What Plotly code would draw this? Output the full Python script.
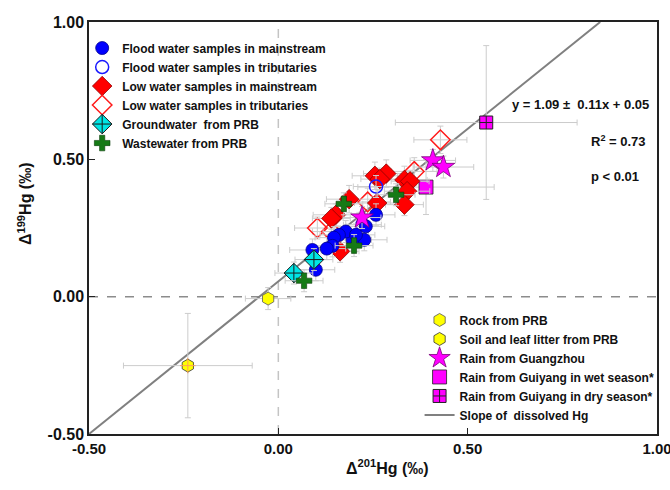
import plotly.graph_objects as go

# ---------------- data ----------------
flood_main_x = [0.258, 0.231, 0.227, 0.196, 0.178, 0.160, 0.147, 0.143, 0.128, 0.090, 0.099, 0.205]
flood_main_y = [0.298, 0.256, 0.207, 0.207, 0.237, 0.225, 0.215, 0.185, 0.175, 0.170, 0.098, 0.225]
flood_main_ex = [0.05, 0.05, 0.06, 0.05, 0.06, 0.05, 0.05, 0.06, 0.05, 0.06, 0.05, 0.05]
flood_main_ey = [0.04, 0.04, 0.04, 0.04, 0.04, 0.03, 0.04, 0.04, 0.04, 0.04, 0.04, 0.04]

flood_trib_x = [0.258, 0.222]
flood_trib_y = [0.401, 0.262]
flood_trib_ex = [0.06, 0.05]
flood_trib_ey = [0.04, 0.04]

low_main_x = [0.255, 0.285, 0.268, 0.187, 0.152, 0.140, 0.163, 0.261, 0.333, 0.348, 0.340, 0.333]
low_main_y = [0.440, 0.448, 0.428, 0.355, 0.298, 0.285, 0.165, 0.341, 0.425, 0.420, 0.384, 0.335]
low_main_ex = [0.06, 0.06, 0.05, 0.06, 0.06, 0.05, 0.05, 0.06, 0.06, 0.05, 0.06, 0.05]
low_main_ey = [0.05, 0.05, 0.04, 0.05, 0.04, 0.04, 0.04, 0.05, 0.05, 0.04, 0.05, 0.04]

low_trib_x = [0.428, 0.359, 0.236, 0.103, 0.140]
low_trib_y = [0.571, 0.456, 0.345, 0.250, 0.237]
low_trib_ex = [0.07, 0.06, 0.06, 0.06, 0.05]
low_trib_ey = [0.05, 0.05, 0.05, 0.04, 0.04]

ground_x = [0.094, 0.041]
ground_y = [0.135, 0.086]
ground_ex = [0.05, 0.05]
ground_ey = [0.04, 0.04]

waste_x = [0.068, 0.173, 0.200, 0.311]
waste_y = [0.058, 0.338, 0.186, 0.371]
waste_ex = [0.05, 0.05, 0.05, 0.05]
waste_ey = [0.04, 0.04, 0.04, 0.04]

rock_x = [-0.027]
rock_y = [-0.007]
rock_ex = [0.06]
rock_ey = [0.04]

soil_x = [-0.239]
soil_y = [-0.251]
soil_ex = [0.17]
soil_ey = [0.19]

gz_x = [0.408, 0.436, 0.221]
gz_y = [0.496, 0.472, 0.288]
gz_ex = [0.06, 0.08, 0.05]
gz_ey = [0.04, 0.04, 0.04]

wet_x = [0.390]
wet_y = [0.399]
wet_ex = [0.18]
wet_ey = [0.10]

dry_x = [0.549]
dry_y = [0.634]
dry_ex = [0.24]
dry_ey = [0.28]

# slope line as drawn in the picture (y = 1.09x + 0.05 label)
line_x = [-0.50, 0.85]
line_y = [-0.50, 1.00]

x_ticks = [-0.50, 0.00, 0.50, 1.00]
y_ticks = [-0.50, 0.00, 0.50, 1.00]
x_tick_text = ["-0.50", "0.00", "0.50", "1.00"]
y_tick_text = ["-0.50", "0.00", "0.50", "1.00"]

# ---------------- figure ----------------
FONT = "Liberation Sans, Arial, sans-serif"
ERRC = "#cccccc"

fig = go.Figure()


def err(ex, ey):
    return (dict(type="data", array=ex, color=ERRC, thickness=1, width=3),
            dict(type="data", array=ey, color=ERRC, thickness=1, width=3))


def add(name, x, y, ex, ey, symbol, color, size, lcolor, lw, legend, rank, show=True):
    exd, eyd = err(ex, ey)
    fig.add_trace(go.Scatter(
        x=x, y=y, mode="markers", name=name, legend=legend, legendrank=rank,
        showlegend=show,
        error_x=exd, error_y=eyd,
        marker=dict(symbol=symbol, color=color, size=size,
                    line=dict(color=lcolor, width=lw)),
    ))


# slope line
fig.add_trace(go.Scatter(x=line_x, y=line_y, mode="lines", name="Slope of  dissolved Hg",
                         line=dict(color="#808080", width=2), legend="legend2", legendrank=6))

add("Rain from Guiyang in dry season*", dry_x, dry_y, dry_ex, dry_ey,
    "square-cross", "#ff00ff", 13, "#222222", 1, "legend2", 5)
add("Rain from Guiyang in wet season*", wet_x, wet_y, wet_ex, wet_ey,
    "square", "#ff00ff", 14, "#222222", 0.8, "legend2", 4)
add("Soil and leaf litter from PRB", soil_x, soil_y, soil_ex, soil_ey,
    "hexagon", "#ffff00", 13, "#333333", 0.8, "legend2", 2)
fig.add_trace(go.Scatter(x=soil_x, y=soil_y, mode="markers", showlegend=False, hoverinfo="skip",
                         marker=dict(symbol="cross-thin-open", size=11,
                                     line=dict(color="#333333", width=1))))
add("Rock from PRB", rock_x, rock_y, rock_ex, rock_ey,
    "hexagon", "#ffff00", 13, "#555555", 0.8, "legend2", 1)
add("Low water samples in tributaries", low_trib_x, low_trib_y, low_trib_ex, low_trib_ey,
    "diamond-open", "#ff1a1a", 15, "#ff1a1a", 1.5, "legend", 4)
add("Low water samples in mainstream", low_main_x, low_main_y, low_main_ex, low_main_ey,
    "diamond", "#ff0000", 15, "#8b0000", 0.8, "legend", 3)
add("Flood water samples in tributaries", flood_trib_x, flood_trib_y, flood_trib_ex, flood_trib_ey,
    "circle-open", "#1a1aff", 13, "#1a1aff", 1.5, "legend", 2)
add("Flood water samples in mainstream", flood_main_x, flood_main_y, flood_main_ex, flood_main_ey,
    "circle", "#0000ff", 13, "#00008b", 0.8, "legend", 1)
add("Groundwater  from PRB", ground_x, ground_y, ground_ex, ground_ey,
    "diamond-cross", "#00e5e5", 15, "#1a1a1a", 1, "legend", 5)
add("Wastewater from PRB", waste_x, waste_y, waste_ex, waste_ey,
    "cross", "#157a15", 13, "#0a3d0a", 0.6, "legend", 6)
add("Rain from Guangzhou", gz_x, gz_y, gz_ex, gz_ey,
    "star", "#ff00ff", 17, "#7a007a", 0.8, "legend2", 3)

fig.add_hline(y=0, line=dict(color="#8c8c8c", width=1.5, dash="dash"), layer="below")
fig.add_vline(x=0, line=dict(color="#c4c4c4", width=1.5, dash="dash"), layer="below")

legend_font = dict(family=FONT, size=12, color="#111111", weight="bold")
ytick_font = dict(family=FONT, size=16, color="#111111", weight="bold")
xtick_font = dict(family=FONT, size=15, color="#111111", weight="bold")

fig.update_layout(
    width=670, height=490,
    margin=dict(l=89, r=13, t=22, b=56, autoexpand=False),
    paper_bgcolor="white", plot_bgcolor="white",
    font=dict(family=FONT, color="#111111"),
    legend=dict(x=-0.012, y=0.972, xanchor="left", yanchor="top",
                bgcolor="rgba(0,0,0,0)", font=legend_font,
                itemsizing="trace", tracegroupgap=0),
    legend2=dict(x=0.582, y=0.312, xanchor="left", yanchor="top",
                 bgcolor="rgba(0,0,0,0)", font=legend_font,
                 itemsizing="trace"),
    xaxis=dict(range=[-0.5, 1.0], tickvals=x_ticks, ticktext=x_tick_text,
               ticks="inside", ticklen=6, tickcolor="#222222",
               showline=True, linecolor="#222222", linewidth=1.5, mirror=True,
               showgrid=False, zeroline=False, tickfont=xtick_font,
               ticklabeloverflow="allow"),
    yaxis=dict(range=[-0.5, 1.0], tickvals=y_ticks, ticktext=y_tick_text,
               ticks="inside", ticklen=6, tickcolor="#222222",
               showline=True, linecolor="#222222", linewidth=1.5, mirror=True,
               showgrid=False, zeroline=False, tickfont=ytick_font,
               ticklabeloverflow="allow"),
    annotations=[
        dict(text="Δ<sup>201</sup>Hg (‰)", xref="paper", yref="paper", x=0.525, y=-0.08,
             xanchor="center", yanchor="middle", showarrow=False,
             font=dict(family=FONT, size=16, color="#111111", weight="bold")),
        dict(text="Δ<sup>199</sup>Hg (‰)", xref="paper", yref="paper", x=-0.113, y=0.56,
             xanchor="center", yanchor="middle", showarrow=False, textangle=-90,
             font=dict(family=FONT, size=16, color="#111111", weight="bold")),
        dict(text="y = 1.09 ±  0.11x + 0.05", xref="paper", yref="paper", x=0.989, y=0.80,
             xanchor="right", yanchor="middle", showarrow=False,
             font=dict(family=FONT, size=13, color="#111111", weight="bold")),
        dict(text="R<sup>2</sup> = 0.73", xref="paper", yref="paper", x=0.88, y=0.71,
             xanchor="left", yanchor="middle", showarrow=False,
             font=dict(family=FONT, size=13, color="#111111", weight="bold")),
        dict(text="p < 0.01", xref="paper", yref="paper", x=0.88, y=0.624,
             xanchor="left", yanchor="middle", showarrow=False,
             font=dict(family=FONT, size=13, color="#111111", weight="bold")),
    ],
)

# remove the page's default body margin so the 670x490 figure fills the window exactly
fig.write_html("out.html",
               config={"displayModeBar": False},
               post_script="document.body.style.margin='0';document.body.style.overflow='hidden';")
